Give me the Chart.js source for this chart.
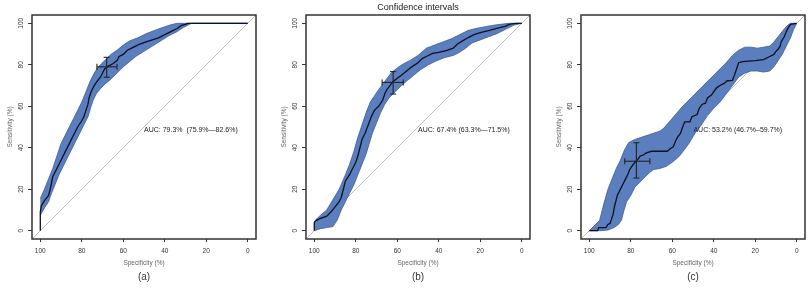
<!DOCTYPE html>
<html><head><meta charset="utf-8">
<script src="https://cdn.jsdelivr.net/npm/chart.js@4.4.0/dist/chart.umd.min.js"></script>
<style>
html,body{margin:0;padding:0;background:#fff;}
#wrap{position:relative;width:812px;height:291px;overflow:hidden;background:#fff;}
.p{position:absolute;top:0;height:291px;}
canvas{display:block;}
</style></head><body>
<div id="wrap">
<div class="p" style="left:0"><canvas id="ca" width="270" height="291"></canvas></div>
<div class="p" style="left:270px"><canvas id="cb" width="270" height="291"></canvas></div>
<div class="p" style="left:540px"><canvas id="cc" width="272" height="291"></canvas></div>
</div>
<script>
// ---------- data (specificity %, sensitivity %) ----------
const xTicks = [100, 80, 60, 40, 20, 0];
const yTicks = [0, 20, 40, 60, 80, 100];
const xAxisTitle = 'Specificity (%)';
const yAxisTitle = 'Sensitivity (%)';
const mainTitle = 'Confidence intervals';
const panelLabels = ['(a)', '(b)', '(c)'];
const aucTexts = ['AUC: 79.3%  (75.9%\u201482.6%)', 'AUC: 67.4% (63.3%\u201471.5%)', 'AUC: 53.2% (46.7%\u201359.7%)'];
const aucPos = [[50, 48.4], [50, 48.4], [49.8, 48.4]];
const diagonal = [[104, -4], [-4, 104]];

const curveA = [[100,0],[100,9],[99.5,12],[98,14.5],[96,17],[95,21],[94,26],[92,30],[90,34],[88,38],[86,42],[84,46],[82,50],[80,53],[79,55],[78,58],[77,61],[76.5,64],[75.5,67],[74,70],[73,71.5],[71,74],[70,76],[69,78],[67,79.5],[65,80.5],[63,82],[62,84],[60,85],[58,87],[56,88],[54,89],[52,90],[49,91],[46,92],[43,93],[40,94.5],[37,96],[34,97.5],[32,99],[30,99.5],[29,100],[0,100]];
const upperA = [[100,15.5],[98,20],[96,25],[94,30],[92,36],[90,42],[88,46],[86,50],[84,54],[82,58],[80,62],[78,67],[76,72],[74,76],[72,79],[70,81],[68,83],[66,85],[63,87],[60,89.5],[57,91.5],[53,93],[49,95],[45,96.5],[41,98],[37,99.3],[34,100],[0,100]];
const lowerA = [[100,7.5],[98,11],[96,14],[95,17],[93,22],[91,27],[89,31],[87,35],[85,39],[83,43],[81,47],[79,51],[77,55],[75.5,60],[74.5,63],[73,66],[71,68.5],[69,70.5],[66,73],[63,76],[60,79],[57,81.5],[54,84],[50,86.5],[46,89],[42,91.5],[38,94],[34,96],[31,98],[28,99.5],[27,100],[0,100]];
const crossA = {spec: 68, sens: 79, specLo: 72.7, specHi: 63, sensLo: 74, sensHi: 83.6};

const curveB = [[100,0],[100,4],[99,5],[97,6],[94,7],[92,9],[90,11.5],[88,14],[87,16],[86,20],[85,24],[83,27],[82,29],[80,33],[79,36],[78,40],[77,44],[75.5,47],[74,51],[72.5,55],[71,58],[69,60],[67,63],[66,66],[65,68],[63.5,70],[62,72],[60,73.5],[58,75],[55.5,77],[53,79],[50,81],[48,83],[46,84],[43,85.5],[40,86],[36,87],[33,88],[31,90],[28.5,91.5],[26,93],[23,94.5],[20,95.5],[16,96.5],[12,97.5],[8,98.5],[6,99.5],[3,100],[0,100]];
const upperB = [[100,4.5],[97,7.5],[94,10],[91,15],[88,20],[85,27],[83,32],[81,38],[79,45],[77,51],[75,57],[73,62],[71,65],[69,68],[66,72],[63,76],[60,78.5],[57,80.5],[54,82],[50,84.5],[46,88],[42,89.5],[38,91],[34,92.5],[30,94.5],[26,96.5],[22,97.5],[17,98.5],[12,99.3],[6,100],[0,100]];
const lowerB = [[100,0],[97,1],[94,1.5],[91,2],[89,5],[87,10],[85,14],[83,18],[81,22],[79,27],[77,32],[75,37],[73.5,42],[72,47],[70,52],[68,57],[66,61],[64,64],[61,67],[58,70],[55,72.5],[52,75],[49,77.5],[45,80],[41,82],[37,83.5],[33,84.5],[30,86],[27,88],[24,90.5],[20,92],[16,93.5],[12,95],[8,97],[4,99],[0,100]];
const crossB = {spec: 62, sens: 71.5, specLo: 67.3, specHi: 57.1, sensLo: 65.9, sensHi: 76.7};

const curveC = [[100,0],[96,0],[95.5,1.5],[92,1.5],[91,3],[90,3.5],[89.5,5],[88.5,8],[88,11],[87.5,13],[86.5,17],[85.5,19],[84.5,21],[83.5,23],[82.5,25],[81.5,27],[80.5,29.5],[79.5,31],[78,33],[76.5,34.5],[75.5,36],[74,36.5],[72.5,37.5],[70,38.3],[62.5,38.3],[61,39.5],[59.5,40.5],[58.5,43],[57.5,45],[56,47],[55,50],[54,52.5],[51.5,52.5],[50.5,55],[48,56],[47,59],[45.5,61],[44,61.5],[43,64],[41,65.5],[40,67],[38.5,69],[37,70],[35,71],[33.5,72.3],[31,72.5],[30,75],[29,78],[28,81],[26,81.5],[20,82],[16,82.5],[13,84],[11,85],[10,86.5],[9,87.5],[8,89],[7.5,91],[6,93.5],[5,96],[4,98],[3,99.5],[0,100]];
const upperC = [[100,0],[97,3],[95,5],[94,9],[93,13],[91,20],[89,25],[87,30],[85,34],[83,39],[81,42.5],[78,44],[75,45],[72,46],[69,47],[66,48],[64,49.5],[61,53],[58,56.5],[55,60],[52,63],[49,66],[46,69],[43,72],[40,75],[37,78],[34,81],[31,84.5],[28,87],[25,88.5],[22,88.5],[19,88],[16,88.5],[13,89],[11,91],[9,93.5],[7,96],[5,98.5],[3,100],[0,100]];
const lowerC = [[100,0],[95,0],[91,0.3],[88,1.5],[86,3],[84.5,5],[83.5,9],[82,14],[80,17],[78,21],[76,23],[74,25],[71,28],[69,29.5],[66,30],[63,31],[60,33],[57,35.5],[55,38],[52,42],[49,47],[46,51],[43,55.5],[40,59],[37,62],[34,66],[31,70],[28,74],[25,76],[22,77],[19,77],[16,76.5],[13,77],[11,79],[9,82],[7,85],[5,89],[3,93],[1.5,97],[0,100]];
const crossC = {spec: 77.3, sens: 33.5, specLo: 82.9, specHi: 70.8, sensLo: 25.4, sensHi: 42.4};

// ---------- rendering ----------
const FONT = "'Liberation Sans', Arial, sans-serif";
const toXY = arr => arr.map(p => ({x: p[0], y: p[1]}));

const panels = [
  {id: 'ca', width: 270, boxL: 32, boxR: 256, curve: curveA, upper: upperA, lower: lowerA, cross: crossA, idx: 0, title: ''},
  {id: 'cb', width: 270, boxL: 36, boxR: 260, curve: curveB, upper: upperB, lower: lowerB, cross: crossB, idx: 1, title: mainTitle},
  {id: 'cc', width: 272, boxL: 41, boxR: 265, curve: curveC, upper: upperC, lower: lowerC, cross: crossC, idx: 2, title: ''}
];

const decor = {
  id: 'decor',
  afterDatasetsDraw(chart, args, opts) {
    const ctx = chart.ctx, a = chart.chartArea;
    const xs = chart.scales.x, ys = chart.scales.y;
    ctx.save();
    // AUC text
    ctx.fillStyle = '#222';
    ctx.font = '7px ' + FONT;
    ctx.textAlign = 'left';
    ctx.textBaseline = 'middle';
    const ap = aucPos[opts.idx];
    ctx.fillText(aucTexts[opts.idx], xs.getPixelForValue(ap[0]), ys.getPixelForValue(ap[1]));
    // box
    ctx.strokeStyle = '#333';
    ctx.lineWidth = 1.5;
    ctx.strokeRect(a.left, a.top, a.right - a.left, a.bottom - a.top);
    // y tick labels (rotated, R style)
    ctx.fillStyle = '#333';
    ctx.font = '6.5px ' + FONT;
    ctx.textAlign = 'center';
    ctx.textBaseline = 'middle';
    yTicks.forEach(v => {
      ctx.save();
      ctx.translate(a.left - 11, ys.getPixelForValue(v));
      ctx.rotate(-Math.PI / 2);
      ctx.fillText(String(v), 0, 0);
      ctx.restore();
    });
    // axis titles
    ctx.fillStyle = '#666';
    ctx.font = '6.5px ' + FONT;
    ctx.fillText(xAxisTitle, (a.left + a.right) / 2, a.bottom + 24);
    ctx.save();
    ctx.translate(a.left - 22, (a.top + a.bottom) / 2);
    ctx.rotate(-Math.PI / 2);
    ctx.fillText(yAxisTitle, 0, 0);
    ctx.restore();
    // panel label
    ctx.fillStyle = '#333';
    ctx.font = '10px ' + FONT;
    ctx.fillText(panelLabels[opts.idx], (a.left + a.right) / 2, a.bottom + 38);
    // main title
    if (opts.title) {
      ctx.fillStyle = '#222';
      ctx.font = '9px ' + FONT;
      ctx.fillText(opts.title, (a.left + a.right) / 2, 8);
    }
    ctx.restore();
  }
};

panels.forEach(p => {
  const band = toXY(p.upper.concat(p.lower.slice().reverse()));
  const c = p.cross;
  const crossH = [{x: c.specLo, y: c.sens}, {x: c.specHi, y: c.sens}];
  const crossV = [{x: c.spec, y: c.sensLo}, {x: c.spec, y: c.sensHi}];
  new Chart(document.getElementById(p.id), {
    type: 'scatter',
    data: {datasets: [
      {data: toXY(diagonal), order: 4, showLine: true, borderColor: '#bdbdbd', borderWidth: 1, pointRadius: 0},
      {data: band, order: 3, showLine: true, fill: 'shape', backgroundColor: '#5b7fbe', borderColor: '#3b5a95', borderWidth: 0.8, pointRadius: 0, tension: 0},
      {data: toXY(p.curve), order: 2, showLine: true, borderColor: '#0d1020', borderWidth: 1.3, pointRadius: 0},
      {data: crossH, order: 1, showLine: true, borderColor: '#222', borderWidth: 1.1, pointStyle: 'line', rotation: 90, pointRadius: 3, pointBorderWidth: 1.1, pointBorderColor: '#222'},
      {data: crossV, order: 0, showLine: true, borderColor: '#222', borderWidth: 1.1, pointStyle: 'line', rotation: 0, pointRadius: 3, pointBorderWidth: 1.1, pointBorderColor: '#222'}
    ]},
    options: {
      responsive: false,
      animation: false,
      events: [],
      layout: {padding: {left: 0, right: p.width - p.boxR, top: 15, bottom: 0}},
      plugins: {legend: {display: false}, tooltip: {enabled: false}, decor: {idx: p.idx, title: p.title}},
      scales: {
        x: {
          type: 'linear', reverse: true, min: -4, max: 104,
          afterBuildTicks: s => { s.ticks = xTicks.map(v => ({value: v})); },
          afterFit: s => { s.height = 52; },
          ticks: {font: {size: 6.5, family: FONT}, color: '#333', padding: 5, maxRotation: 0, minRotation: 0, autoSkip: false},
          grid: {display: true, drawOnChartArea: false, drawTicks: true, tickLength: 3, color: '#333', lineWidth: 1},
          border: {display: false}
        },
        y: {
          type: 'linear', min: -4, max: 104,
          afterBuildTicks: s => { s.ticks = yTicks.map(v => ({value: v})); },
          afterFit: s => { s.width = p.boxL; },
          ticks: {display: false},
          grid: {display: true, drawOnChartArea: false, drawTicks: true, tickLength: 4, color: '#333', lineWidth: 1},
          border: {display: false}
        }
      }
    },
    plugins: [decor]
  });
});
</script>
</body></html>
